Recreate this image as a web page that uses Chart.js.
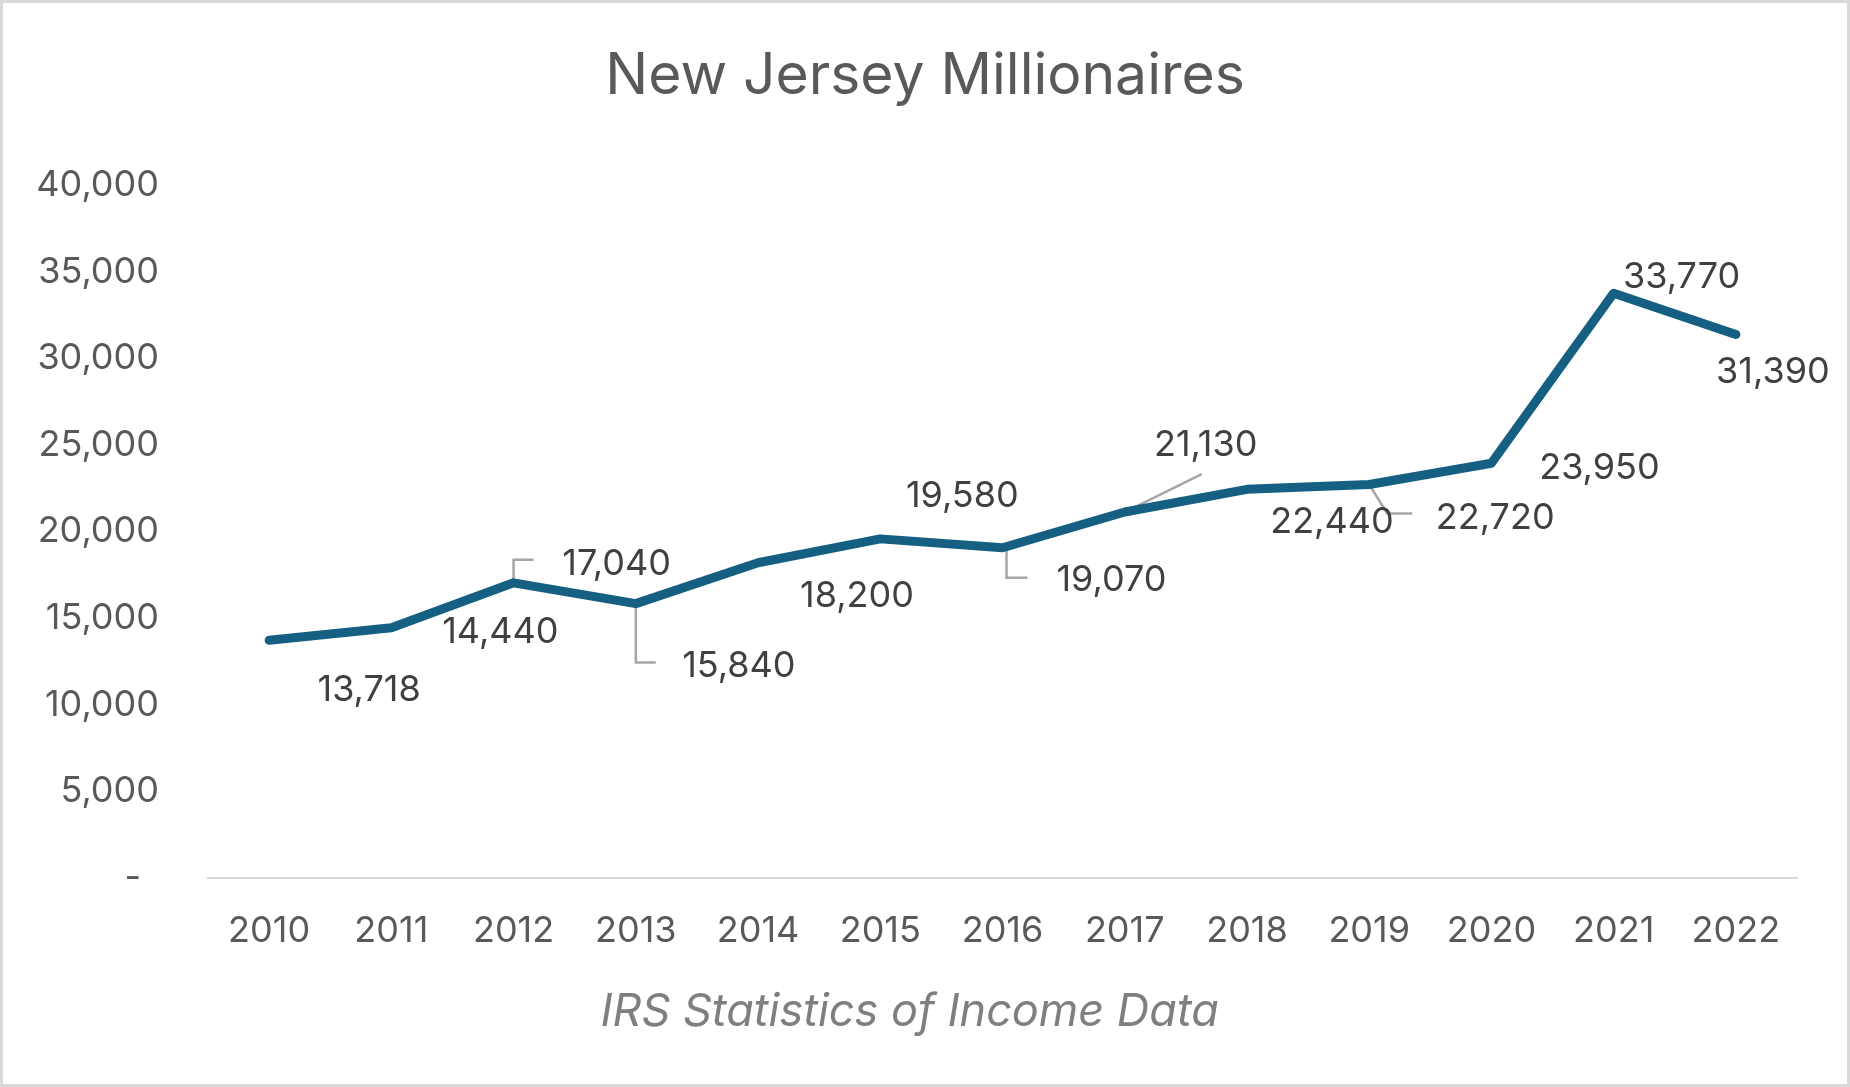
<!DOCTYPE html>
<html lang="en">
<head>
  <meta charset="UTF-8">
  <title>New Jersey Millionaires</title>
  <script src="https://cdn.jsdelivr.net/npm/chart.js"></script>
  <style>
    body { margin: 0; background: #fff; }
    .frame {
      width: 1850px;
      height: 1087px;
      box-sizing: border-box;
      border: 3px solid #d9d9d9;
      background: #fff;
    }
  </style>
</head>
<body>
  <div class="frame">
    <canvas id="chart"></canvas>
  </div>

  <script>
    // data
    const years = ['2010', '2011', '2012', '2013', '2014', '2015', '2016',
                   '2017', '2018', '2019', '2020', '2021', '2022'];
    const millionaires = [13718, 14440, 17040, 15840, 18200, 19580, 19070,
                          21130, 22440, 22720, 23950, 33770, 31390];
    const yTickValues = [0, 5000, 10000, 15000, 20000, 25000, 30000, 35000, 40000];

    // where each data label sits, relative to its point (px), like Excel's dragged labels
    const labelOffsets = [[100, 48], [109, 2], [103, -21], [103, 60], [99, 31], [82, -45],
                          [109, 30], [81, -69], [85, 31], [126, 31], [108, 3], [68, -18], [37, 35]];
    const leaderLines = {
      2: [[0, 0], [0, -23], [20, -23]],
      3: [[0, 0], [0, 59], [20, 59]],
      6: [[4, 0], [4, 30], [25, 30]],
      7: [[0, 0], [77, -38]],
      9: [[0, 0], [18, 29], [43, 29]]
    };

    const FONT = 'Inter, "Open Sans", sans-serif';
    const LABEL_SIZE = 36;
    Chart.defaults.font.family = FONT;

    const dataLabels = {
      id: 'dataLabels',
      beforeDatasetsDraw(chart) {
        const ctx = chart.ctx;
        const pts = chart.getDatasetMeta(0).data;
        ctx.save();
        ctx.strokeStyle = '#a6a6a6';
        ctx.lineWidth = 2.5;
        Object.keys(leaderLines).forEach(i => {
          const p = pts[i];
          ctx.beginPath();
          leaderLines[i].forEach(([lx, ly], k) => {
            if (k === 0) ctx.moveTo(p.x + lx, p.y + ly);
            else ctx.lineTo(p.x + lx, p.y + ly);
          });
          ctx.stroke();
        });
        ctx.restore();
      },
      afterDatasetsDraw(chart) {
        const ctx = chart.ctx;
        const pts = chart.getDatasetMeta(0).data;
        ctx.save();
        ctx.font = LABEL_SIZE + 'px ' + FONT;
        ctx.fillStyle = '#404040';
        ctx.textAlign = 'center';
        ctx.textBaseline = 'alphabetic';
        pts.forEach((p, i) => {
          const [dx, dy] = labelOffsets[i];
          ctx.fillText(millionaires[i].toLocaleString('en-US'), p.x + dx, p.y + dy + LABEL_SIZE * 0.364);
        });
        ctx.restore();
      }
    };

    new Chart(document.getElementById('chart').getContext('2d'), {
      type: 'line',
      data: {
        labels: years,
        datasets: [{
          data: millionaires,
          borderColor: '#156082',
          borderWidth: 9,
          borderCapStyle: 'round',
          borderJoinStyle: 'round',
          pointRadius: 0,
          tension: 0,
          fill: false
        }]
      },
      options: {
        responsive: true,
        maintainAspectRatio: false,
        animation: false,
        devicePixelRatio: 1,
        layout: { padding: { left: 0, right: 0, top: 0, bottom: 45 } },
        plugins: {
          legend: { display: false },
          tooltip: { enabled: false },
          title: {
            display: true,
            text: 'New Jersey Millionaires',
            color: '#595959',
            font: { size: 57, weight: 'normal' },
            padding: { top: 40, bottom: 74 }
          },
          subtitle: {
            display: true,
            position: 'bottom',
            text: 'IRS Statistics of Income Data\u2002\u2009',
            color: '#7f7f7f',
            font: { size: 45, style: 'italic', weight: 'normal' },
            padding: { top: 0, bottom: 0 }
          }
        },
        scales: {
          x: {
            offset: true,
            grid: { display: false, drawTicks: false },
            border: { display: true, color: '#d9d9d9', width: 2 },
            ticks: { color: '#595959', font: { size: 36 }, padding: 32, maxRotation: 0, autoSkip: false }
          },
          y: {
            min: 0,
            max: 40000,
            grid: { display: false, drawTicks: false },
            border: { display: false },
            afterBuildTicks: axis => { axis.ticks = yTickValues.map(v => ({ value: v })); },
            afterFit: axis => { axis.width = 205; },
            ticks: {
              color: '#595959',
              font: { size: 36 },
              padding: 49,
              callback: v => v === 0 ? '-\u2002' : v.toLocaleString('en-US')
            }
          },
          // empty right-hand axis: only keeps the right margin so the title stays centred
          spacer: {
            type: 'linear',
            position: 'right',
            grid: { display: false, drawTicks: false },
            border: { display: false },
            ticks: { display: false },
            afterFit: axis => { axis.width = 50; }
          }
        }
      },
      plugins: [dataLabels]
    });
  </script>
</body>
</html>
